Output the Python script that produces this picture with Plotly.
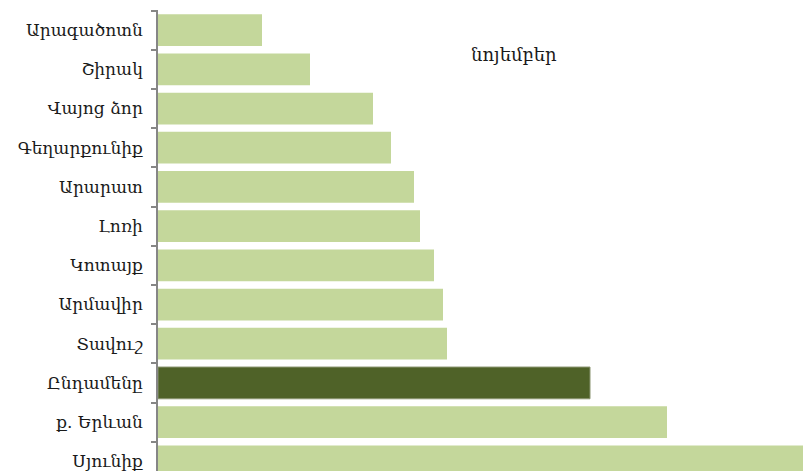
import plotly.graph_objects as go

categories = ["Արագածոտն", "Շիրակ", "Վայոց ձոր", "Գեղարքունիք", "Արարատ", "Լոռի",
              "Կոտայք", "Արմավիր", "Տավուշ", "Ընդամենը", "ք. Երևան", "Սյունիք"]
values = [104, 152, 215, 233, 256, 262, 276, 285, 289, 432, 509, 660]
title_text = "նոյեմբեր"

light = "#c4d79b"
dark = "#4f6228"
colors = [dark if c == "Ընդամենը" else light for c in categories]
line_colors = ["#8a9470" if c == "Ընդամենը" else light for c in categories]
line_widths = [1 if c == "Ընդամենը" else 0 for c in categories]

fig = go.Figure(go.Bar(
    x=values, y=categories, orientation="h",
    marker=dict(color=colors, line=dict(color=line_colors, width=line_widths)),
    hoverinfo="skip",
))

fig.update_layout(
    width=803, height=471,
    margin=dict(l=158, r=0, t=10, b=0, pad=0, autoexpand=False),
    paper_bgcolor="white", plot_bgcolor="white",
    bargap=0.19,
    showlegend=False,
    font=dict(family="DejaVu Serif", size=17, color="#1a1a1a"),
    xaxis=dict(range=[0, 645], showgrid=False, zeroline=False, showticklabels=False,
               showline=False, ticks=""),
    yaxis=dict(type="category", range=[11.247, -0.513], showgrid=False, zeroline=False,
               showline=True, linecolor="#868686", linewidth=1.5,
               ticks="outside", tickson="boundaries", ticklen=5, tickcolor="#868686",
               tickwidth=1.5, ticklabelstandoff=10),
    annotations=[dict(text=title_text, x=(514 - 158) / 645, y=1 - (42 - 10) / 461,
                      xref="paper", yref="paper", showarrow=False,
                      font=dict(family="DejaVu Serif", size=18, color="#1a1a1a"))],
)

fig.write_html(
    "out.html",
    config={"displayModeBar": False},
    post_script="document.body.style.margin='0';document.body.style.overflow='hidden';",
)
